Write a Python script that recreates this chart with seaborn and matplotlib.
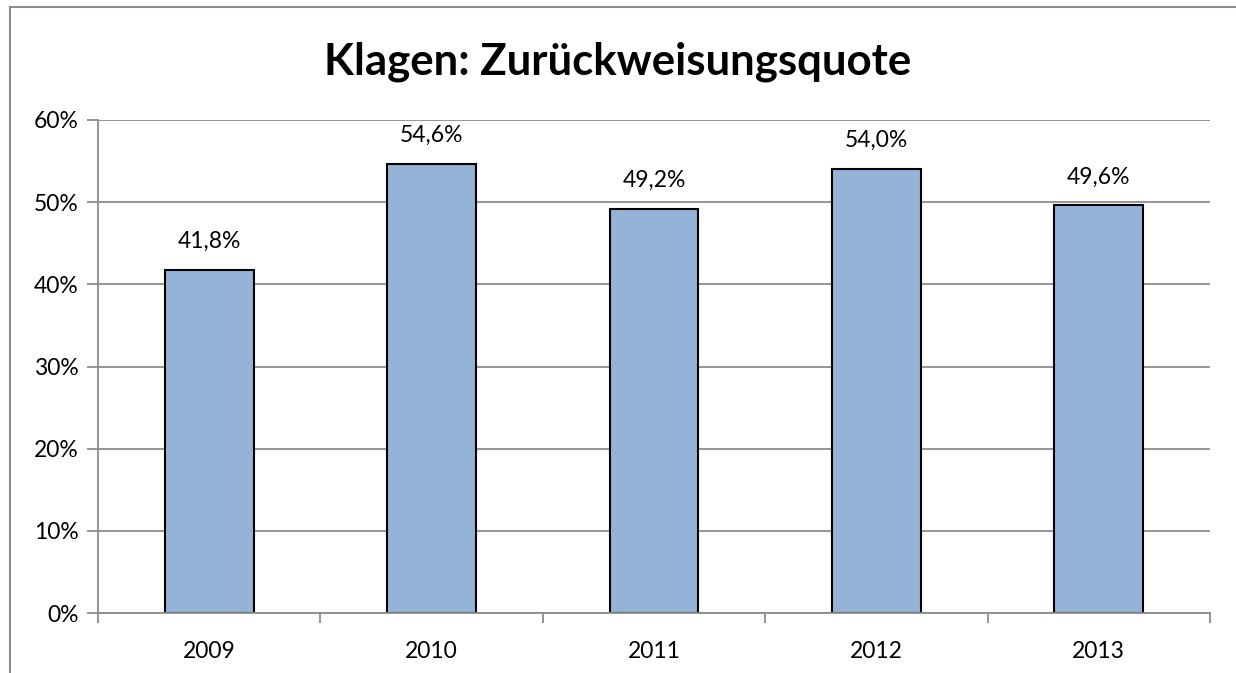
import matplotlib
matplotlib.use("Agg")
import matplotlib.pyplot as plt
import seaborn as sns
import pandas as pd
from matplotlib.lines import Line2D
from matplotlib.ticker import FixedLocator

years = ["2009", "2010", "2011", "2012", "2013"]
values = [41.8, 54.6, 49.2, 54.0, 49.6]
labels = ["41,8%", "54,6%", "49,2%", "54,0%", "49,6%"]
yticks = [0, 10, 20, 30, 40, 50, 60]
title = "Klagen: Zurückweisungsquote"

sns.set_theme(style="white")
plt.rcParams['font.family'] = ['Lato', 'DejaVu Sans']

W, H = 1236, 673
fig = plt.figure(figsize=(W / 100, H / 100), dpi=100)
ax = fig.add_axes([98 / W, 1 - 613 / H, (1210 - 98) / W, (613 - 120) / H])

df = pd.DataFrame({"year": years, "value": values})
sns.barplot(data=df, x="year", y="value", ax=ax, color="#95B3D7",
            edgecolor="black", linewidth=1.5, width=0.4, saturation=1)

fs = 16.5
ax.set_xlim(-0.5, len(years) - 0.5)
ax.set_ylim(0, 60)
ax.set_yticks(yticks)
ax.set_yticklabels([f"{t}%" for t in yticks], fontsize=fs)
ax.yaxis.grid(True, color="#8C8C8C", linewidth=1.3)
ax.set_axisbelow(True)
ax.set_xlabel("")
ax.set_ylabel("")
for s in ["top", "right"]:
    ax.spines[s].set_visible(False)
for s in ["left", "bottom"]:
    ax.spines[s].set_color("#8C8C8C")
    ax.spines[s].set_linewidth(1.3)

ax.tick_params(axis="y", which="major", length=8, width=1.3, color="#8C8C8C",
               left=True, pad=6, labelcolor="black")
ax.tick_params(axis="x", which="major", length=0, pad=20, labelsize=fs, labelcolor="black")
ax.xaxis.set_minor_locator(FixedLocator([i - 0.5 for i in range(len(years) + 1)]))
ax.tick_params(axis="x", which="minor", length=7, width=1.3, color="#8C8C8C",
               bottom=True, direction="out")

for i, (v, lab) in enumerate(zip(values, labels)):
    ax.annotate(lab, (i, v), xytext=(0, 13), textcoords="offset points",
                ha="center", va="bottom", fontsize=fs, color="black")

fig.text(0.5, 1 - 62 / H, title, ha="center", va="center",
         fontsize=31.5, fontweight="bold", color="black")

fig.add_artist(Line2D([10 / W, 10 / W], [-0.1, 1 - 7 / H], transform=fig.transFigure,
                      color="#8C8C8C", linewidth=1.5, solid_capstyle="projecting"))
fig.add_artist(Line2D([10 / W, 2.0], [1 - 7 / H, 1 - 7 / H], transform=fig.transFigure,
                      color="#8C8C8C", linewidth=1.5, solid_capstyle="projecting"))

fig.savefig("out.png", dpi=100, facecolor="white", edgecolor="none")
